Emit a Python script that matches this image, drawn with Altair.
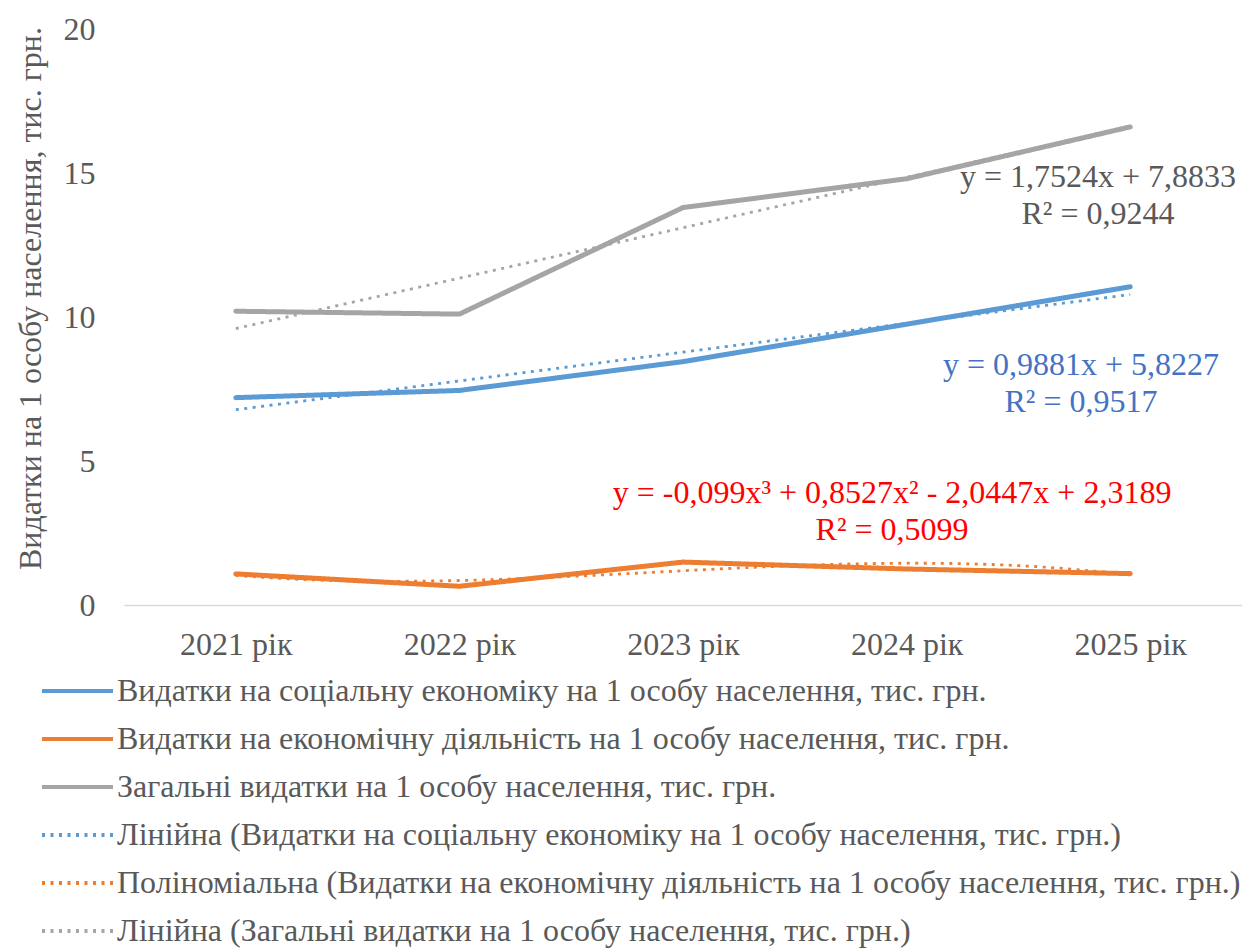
import json
import altair as alt
import pandas as pd

# ---- data ----
years = ["2021 рік", "2022 рік", "2023 рік", "2024 рік", "2025 рік"]
idx = [1, 2, 3, 4, 5]
social = [7.2, 7.45, 8.45, 9.75, 11.05]
economic = [1.08, 0.65, 1.49, 1.25, 1.09]
total = [10.2, 10.1, 13.8, 14.8, 16.6]

s_names = [
    "Видатки на соціальну економіку на 1 особу населення, тис. грн.",
    "Видатки на економічну діяльність на 1 особу населення, тис. грн.",
    "Загальні видатки на 1 особу населення, тис. грн.",
]
t_names = [
    "Лінійна (Видатки на соціальну економіку на 1 особу населення, тис. грн.)",
    "Поліноміальна (Видатки на економічну діяльність на 1 особу населення, тис. грн.)",
    "Лінійна (Загальні видатки на 1 особу населення, тис. грн.)",
]
t_methods = ["linear", "poly", "linear"]
colors = ["#5B9BD5", "#ED7D31", "#A5A5A5"]

eq_text = [
    "y = 0,9881x + 5,8227\nR² = 0,9517",
    "y = -0,099x³ + 0,8527x² - 2,0447x + 2,3189\nR² = 0,5099",
    "y = 1,7524x + 7,8833\nR² = 0,9244",
]
eq_colors = ["#4472C4", "#FF0000", "#595959"]
eq_x = [4.78, 3.935, 4.856]
eq_y = [8.33, 3.89, 14.86]

y_title = "Видатки на 1 особу населення, тис. грн."
FONT = "'Liberation Serif', 'Times New Roman', 'DejaVu Serif', serif"
TXT = "#595959"
FS = 32

rows = []
for name, vals in zip(s_names, [social, economic, total]):
    for i, v in zip(idx, vals):
        rows.append({"x": i, "y": v, "series": name})
df = pd.DataFrame(rows)

color_scale = alt.Scale(domain=s_names + t_names, range=colors + colors)
dash_scale = alt.Scale(domain=s_names + t_names,
                       range=[[1, 0]] * 3 + [[3, 5.5]] * 3)

legend = alt.Legend(
    title=None, orient="none", legendX=-84, legendY=638, direction="vertical",
    symbolType="stroke", symbolSize=5041, symbolStrokeWidth=4,
    labelFont=FONT, labelFontSize=FS, labelColor=TXT, labelLimit=1200,
    labelOffset=2, rowPadding=0, clipHeight=48, padding=0,
)

label_expr = json.dumps(years) + "[datum.value - 1]"

x_enc = alt.X("x:Q", scale=alt.Scale(domain=[0.5, 5.5]),
              axis=alt.Axis(values=idx, labelExpr=label_expr, title=None,
                            grid=False, ticks=False, domainColor="#D9D9D9",
                            domainWidth=1.5, labelPadding=24))
y_enc = alt.Y("y:Q", scale=alt.Scale(domain=[0, 20]),
              axis=alt.Axis(values=[0, 5, 10, 15, 20], title=y_title,
                            grid=False, ticks=False, domain=False,
                            labelPadding=29, titleX=-94, titleY=269,
                            titleBaseline="middle"))
c_enc = alt.Color("series:N", scale=color_scale, legend=legend)
d_enc = alt.StrokeDash("series:N", scale=dash_scale, legend=legend)

base = alt.Chart(df)
lines = base.mark_line(strokeWidth=5, strokeCap="round", strokeJoin="round").encode(
    x=x_enc, y=y_enc, color=c_enc, strokeDash=d_enc)

layers = [lines]
for s, t, m in zip(s_names, t_names, t_methods):
    reg = base.transform_filter(alt.datum.series == s)
    if m == "poly":
        reg = reg.transform_regression("x", "y", method="poly", order=3, extent=[1, 5])
    else:
        reg = reg.transform_regression("x", "y", method="linear", extent=[1, 5])
    reg = reg.transform_calculate(series=json.dumps(t)).mark_line(
        strokeWidth=2.8, strokeCap="butt").encode(
        x="x:Q", y="y:Q", color=c_enc, strokeDash=d_enc)
    layers.append(reg)

for t, c, xx, yy in zip(eq_text, eq_colors, eq_x, eq_y):
    tdf = pd.DataFrame({"x": [xx], "y": [yy], "t": [t]})
    layers.append(alt.Chart(tdf).mark_text(
        lineBreak="\n", align="center", baseline="middle", font=FONT,
        fontSize=FS, lineHeight=37, color=c).encode(x="x:Q", y="y:Q", text="t:N"))

chart = alt.layer(*layers).properties(
    width=1118, height=576,
    padding={"left": 124, "top": 29, "right": 0, "bottom": 344},
    autosize="none", background="white",
).configure_view(stroke=None).configure_axis(
    labelFont=FONT, labelFontSize=FS, labelColor=TXT,
    titleFont=FONT, titleFontSize=FS, titleColor=TXT, titleFontWeight="normal",
).configure_legend(
    labelFont=FONT, labelFontSize=FS, labelColor=TXT,
)

chart.save("out.html", embed_options={"renderer": "svg", "actions": False})
